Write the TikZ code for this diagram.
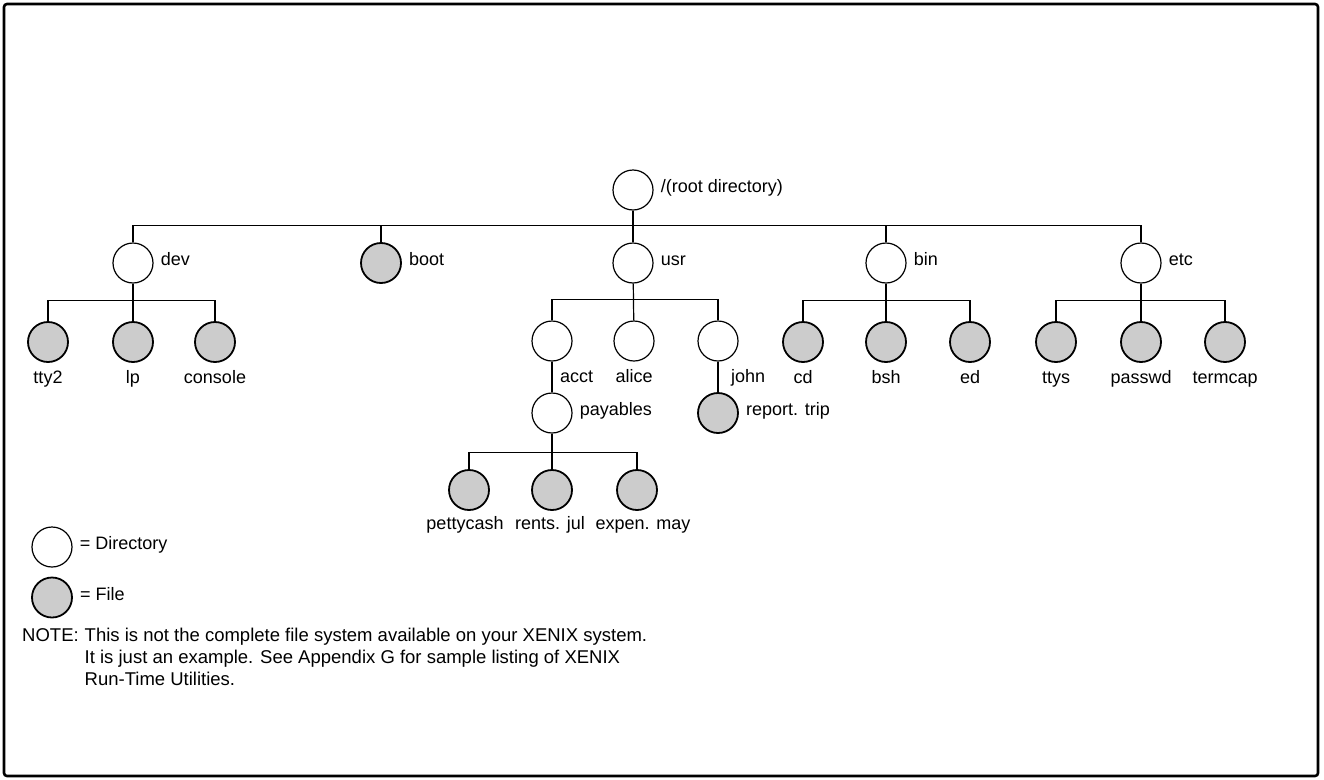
\documentclass[tikz,border=0pt]{standalone}
\usepackage{fontspec}
\setmainfont{Liberation Sans}
\usetikzlibrary{positioning}

\begin{document}
\begin{tikzpicture}[x=1pt, y=-1pt,
    dir/.style={circle, draw, line width=1.2pt, minimum size=40pt, inner sep=0pt},
    file/.style={dir, fill=black!20, line width=1.8pt},
    lbl/.style={font=\fontsize{18}{22}\selectfont, text height=0.72em, text depth=0.22em, inner sep=2pt},
    link/.style={line width=1.2pt},
    every label/.style={label distance=5pt}]
  \useasboundingbox (0,0) rectangle (1324,779);
  \draw[line width=2.6pt, rounded corners=3pt] (4,4) rectangle (1318,776);

  % root and first level
  \node[dir, label={[lbl]right:/(root directory)}] (root) at (633,190) {};
  \foreach \n/\x in {dev/133, usr/633, bin/886, etc/1141}
    \node[dir, label={[lbl]right:\n}] (\n) at (\x,263) {};
  \node[file, label={[lbl]right:boot}] (boot) at (381,263) {};

  % second level
  \foreach \n/\x in {tty2/48, lp/133, console/215, cd/803, bsh/886, ed/970, ttys/1056, passwd/1141, termcap/1225}
    \node[file, label={[lbl, label distance=11pt]below:\n}] (\n) at (\x,342) {};
  \node[dir, label={[lbl, label distance=11pt, anchor=north west, xshift=6pt]below:acct}] (acct) at (552,341) {};
  \node[dir, label={[lbl, label distance=11pt]below:alice}] (alice) at (634,341) {};
  \node[dir, label={[lbl, label distance=11pt, anchor=north west, xshift=11pt]below:john}] (john) at (718,341) {};

  % third level
  \node[dir, label={[lbl]right:payables}] (payables) at (552,413) {};
  \node[file, label={[lbl]right:report. trip}] (reporttrip) at (718,413) {};
  \foreach \n/\t/\s/\x in {pettycash/pettycash/-4/469, rentsjul/rents. jul/-2/552, expenmay/expen. may/6/637}
    \node[file, label={[lbl, label distance=9pt, xshift=\s pt]below:\t}] (\n) at (\x,490) {};

  % connectors
  \draw[link] (root) -- (usr);
  \draw[link] (dev.north) -- ++(0,-17) -| (etc.north);
  \foreach \n in {boot, bin}
    \draw[link] (\n.north) -- ++(0,-17);
  \foreach \p/\a/\m/\b in {dev/tty2/lp/console, usr/acct/alice/john, bin/cd/bsh/ed, etc/ttys/passwd/termcap} {
    \draw[link] (\p) -- (\m);
    \draw[link] (\a.north) -- ++(0,-21) -| (\b.north);
  }
  \draw[link] (acct) -- (payables);
  \draw[link] (john) -- (reporttrip);
  \draw[link] (payables) -- (rentsjul);
  \draw[link] (pettycash.north) -- ++(0,-17) -| (expenmay.north);

  % legend
  \node[dir, label={[lbl]right:= Directory}] (legdir) at (52,547) {};
  \node[file, below=9pt of legdir, label={[lbl]right:= File}] (legfile) {};

  % note
  \node[anchor=north west, inner sep=0pt, font=\fontsize{18.5}{22}\selectfont] (note) at (22,626)
    {\begin{tabular}{@{}l@{\hspace{6pt}}l@{}}
      NOTE: & This is not the complete file system available on your XENIX system.\\
            & It is just an example. See Appendix G for sample listing of XENIX\\
            & Run-Time Utilities.
     \end{tabular}};
\end{tikzpicture}
\end{document}
